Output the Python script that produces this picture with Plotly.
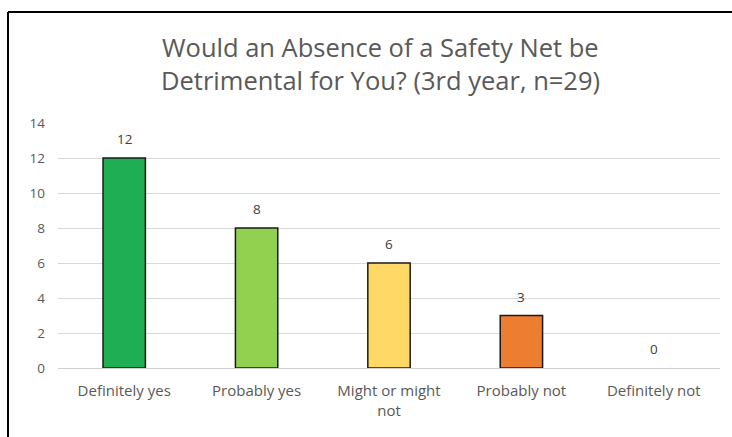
import plotly.graph_objects as go

# Survey responses
categories = ["Definitely yes", "Probably yes", "Might or might not", "Probably not", "Definitely not"]
tick_labels = ["Definitely yes", "Probably yes", "Might or might<br>not", "Probably not", "Definitely not"]
counts = [12, 8, 6, 3, 0]
bar_colors = ["#1fae53", "#92d050", "#ffd966", "#ed7d31", "#5b9bd5"]
y_ticks = [0, 2, 4, 6, 8, 10, 12, 14]
title_lines = ["Would an Absence of a Safety Net be", "Detrimental for You? (3rd year, n=29)"]

W, H = 732, 437
L, R, T, B = 58, 12, 123, 69
plot_h = H - T - B
plot_w = W - L - R

FONT = "'Open Sans', Lato, sans-serif"
GRAY = "#595959"

# Outline only bars that have height
outline_widths = [1.5 if v > 0 else 0 for v in counts]

fig = go.Figure(
    go.Bar(
        x=categories,
        y=counts,
        marker=dict(color=bar_colors, line=dict(color="#1a1a1a", width=outline_widths)),
        width=0.32,
        hoverinfo="x+y",
    )
)

# Value labels above each bar
for c, v in zip(categories, counts):
    fig.add_annotation(
        x=c, y=v, text=str(v), showarrow=False,
        yanchor="bottom", yshift=8,
        font=dict(family=FONT, size=13.5, color="#404040"),
    )

# Two-line chart title
for i, line in enumerate(title_lines):
    fig.add_annotation(
        xref="paper", yref="paper",
        x=(380 - L) / plot_w, y=(H - B - (47 + 33 * i)) / plot_h,
        text=line, showarrow=False, xanchor="center", yanchor="middle",
        font=dict(family=FONT, size=25.5, color=GRAY),
    )

# Chart frame (top and left edges)
top_y = (H - B - 12) / plot_h
left_x = (8 - L) / plot_w
fig.add_shape(type="line", xref="paper", yref="paper",
              x0=left_x, x1=1.2, y0=top_y, y1=top_y,
              line=dict(color="black", width=2))
fig.add_shape(type="line", xref="paper", yref="paper",
              x0=left_x, x1=left_x, y0=top_y, y1=-0.5,
              line=dict(color="black", width=2))

fig.update_layout(
    width=W, height=H,
    margin=dict(l=L, r=R, t=T, b=B),
    paper_bgcolor="white", plot_bgcolor="white",
    showlegend=False,
    font=dict(family=FONT, size=13, color=GRAY),
)
fig.update_xaxes(
    type="category",
    tickmode="array", tickvals=categories, ticktext=tick_labels,
    showgrid=False, showline=False, ticks="",
    ticklabelstandoff=12,
    tickfont=dict(family=FONT, size=15, color=GRAY),
)
fig.update_yaxes(
    range=[0, 14], tickvals=y_ticks,
    showgrid=True, gridcolor="#d9d9d9", gridwidth=1,
    zeroline=True, zerolinecolor="#d0d0d0", zerolinewidth=1,
    showline=False, ticks="",
    ticklabelstandoff=12,
    tickfont=dict(family=FONT, size=13.5, color=GRAY),
)

fig.write_html("out.html")
